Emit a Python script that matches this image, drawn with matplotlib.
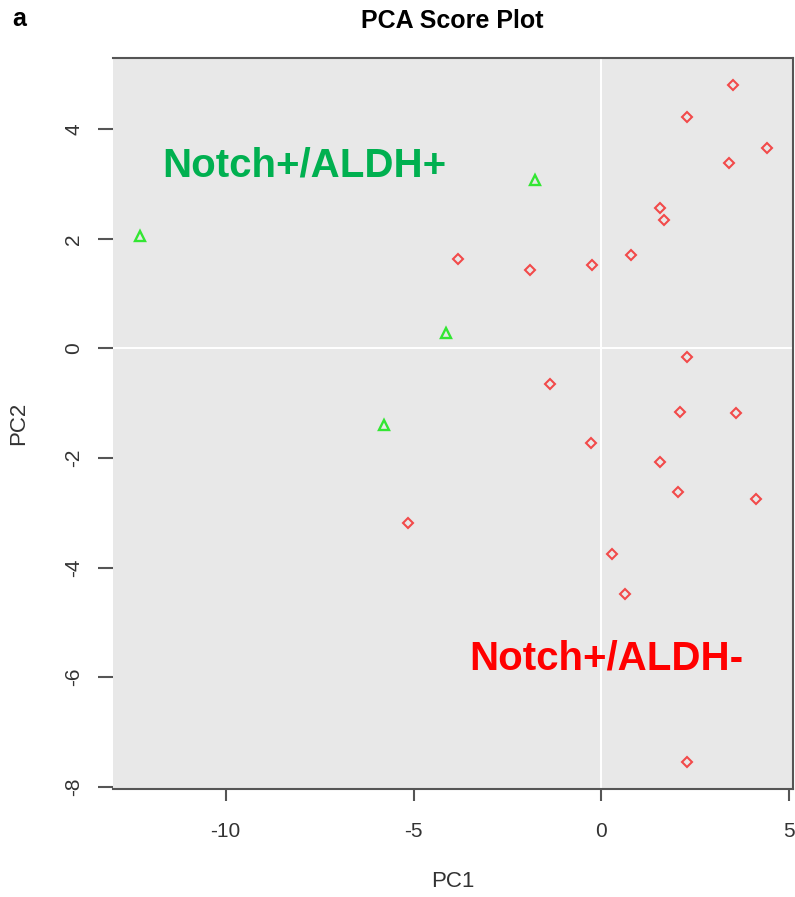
import matplotlib
matplotlib.use("Agg")
import matplotlib.pyplot as plt

plt.rcParams['font.family'] = ['Liberation Sans', 'DejaVu Sans']

# PCA scores, Notch+/ALDH- group (red diamonds)
neg_pc1 = [3.51, 2.28, 4.41, 3.40, 1.56, 1.67, 0.80, -3.81, -1.90, -0.26,
           2.28, -1.37, 2.08, 3.58, -0.28, 1.56, 2.04, 4.11, -5.16, 0.28,
           0.62, 2.27]
neg_pc2 = [4.80, 4.23, 3.66, 3.38, 2.56, 2.34, 1.70, 1.63, 1.43, 1.52,
           -0.15, -0.64, -1.16, -1.18, -1.72, -2.08, -2.62, -2.75, -3.19, -3.76,
           -4.48, -7.55]

# Notch+/ALDH+ group (green triangles)
pos_pc1 = [-12.28, -1.77, -4.13, -5.78]
pos_pc2 = [2.06, 3.07, 0.29, -1.40]

xticks = [-10, -5, 0, 5]
yticks = [-8, -6, -4, -2, 0, 2, 4]

fig = plt.figure(figsize=(7.95, 8.97), dpi=100)
ax = fig.add_axes([0.1421, 0.1204, 0.8554, 0.8149])
ax.set_facecolor('#e8e8e8')

ax.axvline(0, color='white', lw=1.4, zorder=1)
ax.axhline(0, color='white', lw=1.4, zorder=1)

ax.plot(neg_pc1, neg_pc2, linestyle='none', marker='D', ms=4.6,
        mfc='none', mec='#f24a4a', mew=1.5, zorder=3)
ax.plot(pos_pc1, pos_pc2, linestyle='none', marker='^', ms=7.5,
        mfc='none', mec='#33e633', mew=1.7, zorder=3)

ax.text(-7.9, 3.34, 'Notch+/ALDH+', color='#00b050', fontsize=29,
        fontweight='bold', ha='center', va='center')
ax.text(0.12, -5.66, 'Notch+/ALDH-', color='#ff0000', fontsize=29,
        fontweight='bold', ha='center', va='center')

ax.set_xlim(-13.0, 5.1)
ax.set_ylim(-8.04, 5.30)
ax.set_xticks(xticks)
ax.set_yticks(yticks)
ax.set_xticklabels([str(v) for v in xticks])
ax.set_yticklabels([str(v) for v in yticks], rotation=90, va='center')

ax.spines['left'].set_visible(False)
for side in ['top', 'right', 'bottom']:
    ax.spines[side].set_color('#555555')
    ax.spines[side].set_linewidth(1.5)

ax.tick_params(axis='x', length=8.5, width=1.5, color='#555555',
               labelsize=15, labelcolor='#333333', pad=15)
ax.tick_params(axis='y', length=10.5, width=1.5, color='#555555',
               labelsize=15, labelcolor='#333333', pad=11)

ax.set_xlabel('PC1', fontsize=16, color='#333333', labelpad=22)
ax.set_ylabel('PC2', fontsize=16, color='#333333', labelpad=25)

fig.text(0.569, 0.977, 'PCA Score Plot', fontsize=18, fontweight='bold',
         ha='center', va='center')
fig.text(0.015, 0.979, 'a', fontsize=18, fontweight='bold',
         ha='left', va='center')

fig.savefig('out.png', dpi=100)
